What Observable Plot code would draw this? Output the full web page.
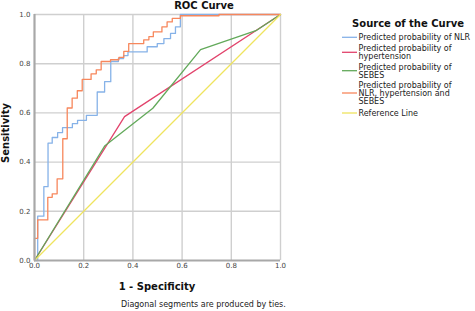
<!DOCTYPE html>
<html>
<head>
<meta charset="utf-8">
<script src="https://cdn.jsdelivr.net/npm/d3@7"></script>
<script src="https://cdn.jsdelivr.net/npm/@observablehq/plot@0.6"></script>
<style>
  html, body { margin: 0; padding: 0; background: #fff; }
  svg text { font-family: "DejaVu Sans", sans-serif; }
</style>
</head>
<body>
<div id="chart"></div>
<script>
// ---- Data (corner points of each ROC curve: 1 - specificity, sensitivity) ----
const seriesNames = [
  "Predicted probability of NLR",
  "Predicted probability of hypertension",
  "Predicted probability of SEBES",
  "Predicted probability of NLR, hypertension and SEBES",
  "Reference Line"
];
const legendLines = [
  ["Predicted probability of NLR"],
  ["Predicted probability of", "hypertension"],
  ["Predicted probability of", "SEBES"],
  ["Predicted probability of", "NLR, hypertension and", "SEBES"],
  ["Reference Line"]
];
const seriesColors = ["#86b2e8", "#e2436c", "#62a95a", "#f7875c", "#efe45e"];
const seriesCurves = ["step-after", "linear", "linear", "step-after", "linear"];

const nlrX = [0, 0.013, 0.038, 0.055, 0.072, 0.094, 0.114, 0.154, 0.175, 0.211, 0.255, 0.285, 0.31, 0.341, 0.362, 0.38, 0.458, 0.499, 0.526, 0.553, 0.573, 0.593, 1];
const nlrY = [0, 0.18, 0.30, 0.477, 0.50, 0.52, 0.54, 0.556, 0.57, 0.59, 0.685, 0.727, 0.809, 0.821, 0.833, 0.848, 0.869, 0.882, 0.902, 0.923, 0.95, 1.0, 1.0];

const htnX = [0, 0.366, 1];
const htnY = [0, 0.585, 1];

const sebesX = [0, 0.285, 0.481, 0.675, 0.9, 1];
const sebesY = [0, 0.465, 0.619, 0.857, 0.934, 1];

const comboX = [0, 0, 0.013, 0.054, 0.072, 0.092, 0.115, 0.133, 0.153, 0.174, 0.194, 0.23, 0.251, 0.271, 0.309, 0.343, 0.363, 0.383, 0.444, 0.465, 0.483, 0.518, 0.539, 0.56, 0.593, 0.75, 1];
const comboY = [0, 0.09, 0.165, 0.257, 0.271, 0.332, 0.495, 0.62, 0.66, 0.69, 0.736, 0.759, 0.775, 0.809, 0.816, 0.826, 0.85, 0.882, 0.897, 0.91, 0.929, 0.95, 0.97, 0.984, 0.995, 1, 1];

const refX = [0, 1];
const refY = [0, 1];

const tickValues = [0, 0.2, 0.4, 0.6, 0.8, 1.0];
const gridValues = [0.2, 0.4, 0.6, 0.8, 1.0];

const titleText = "ROC Curve";
const xLabel = "1 - Specificity";
const yLabel = "Sensitivity";
const legendTitle = "Source of the Curve";
const captionText = "Diagonal segments are produced by ties.";

// ---- Build tables ----
const xs = [nlrX, htnX, sebesX, comboX, refX];
const ys = [nlrY, htnY, sebesY, comboY, refY];
const tables = xs.map((xa, i) => xa.map((x, j) => ({x, y: ys[i][j]})));

const W = 475, H = 311;
const mL = 34, mR = 195, mT = 14, mB = 51;

const lineMarks = tables.map((t, i) =>
  Plot.line(t, {x: "x", y: "y", stroke: seriesColors[i], strokeWidth: 1.3, curve: seriesCurves[i]})
);

const plot = Plot.plot({
  width: W, height: H,
  marginLeft: mL, marginRight: mR, marginTop: mT, marginBottom: mB,
  style: {fontFamily: "DejaVu Sans", fontSize: "7px", color: "#444", background: "#fff"},
  x: {domain: [0, 1]},
  y: {domain: [0, 1]},
  marks: [
    Plot.ruleX(gridValues, {stroke: "#cfcfcf", strokeWidth: 1.4}),
    Plot.ruleY(gridValues, {stroke: "#cfcfcf", strokeWidth: 1.4}),
    ...lineMarks,
    Plot.ruleX([0], {stroke: "#a8a8a8", strokeWidth: 2.2}),
    Plot.ruleY([0], {stroke: "#a8a8a8", strokeWidth: 2.2}),
    Plot.axisX({ticks: tickValues, tickFormat: d3.format(".1f"), tickSize: 0, tickPadding: 3, label: null}),
    Plot.axisY({ticks: tickValues, tickFormat: d3.format(".1f"), tickSize: 0, tickPadding: 4, label: null})
  ]
});

document.getElementById("chart").appendChild(plot);
const svg = d3.select(plot);

// Title
svg.append("text").attr("x", 204).attr("y", 8.8).attr("text-anchor", "middle")
  .attr("font-size", 10).attr("font-weight", "bold").attr("fill", "#111").text(titleText);

// Axis labels
svg.append("text").attr("x", (mL + (W - mR)) / 2).attr("y", 289.5).attr("text-anchor", "middle")
  .attr("font-size", 10).attr("font-weight", "bold").attr("fill", "#111").text(xLabel);
svg.append("text").attr("transform", "translate(8.8,133) rotate(-90)").attr("text-anchor", "middle")
  .attr("font-size", 10).attr("font-weight", "bold").attr("fill", "#111").text(yLabel);

// Caption
svg.append("text").attr("x", 121).attr("y", 307).attr("text-anchor", "start")
  .attr("font-size", 8).attr("fill", "#222").text(captionText);

// Legend
svg.append("text").attr("x", 408).attr("y", 26.5).attr("text-anchor", "middle")
  .attr("font-size", 10).attr("font-weight", "bold").attr("fill", "#111").text(legendTitle);
const entryTop = [37.3, 48.3, 66.7, 85, 113];
const lineGap = 8;
legendLines.forEach((lines, i) => {
  const top = entryTop[i];
  const mid = top + (lines.length - 1) * lineGap / 2;
  svg.append("line").attr("x1", 342).attr("x2", 357).attr("y1", mid).attr("y2", mid)
    .attr("stroke", seriesColors[i]).attr("stroke-width", 1.3);
  lines.forEach((s, k) => {
    svg.append("text").attr("x", 358.5).attr("y", top + k * lineGap + 2.9).attr("text-anchor", "start")
      .attr("font-size", 8).attr("fill", "#222").text(s);
  });
});
</script>
</body>
</html>
